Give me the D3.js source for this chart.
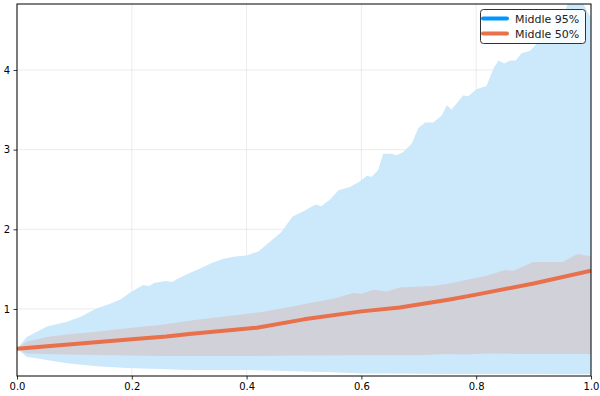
<!DOCTYPE html>
<html><head><meta charset="utf-8">
<script src="https://cdn.jsdelivr.net/npm/d3@7"></script>
<style>body{margin:0;background:#fff}svg{display:block;font-family:"DejaVu Sans",sans-serif}</style>
</head><body><svg id="c" width="600" height="396"></svg>
<script>
const up95X = [0,0.017,0.052,0.087,0.11,0.139,0.16,0.18,0.20,0.22,0.23,0.24,0.26,0.27,0.28,0.30,0.32,0.34,0.36,0.38,0.40,0.42,0.44,0.46,0.48,0.50,0.52,0.53,0.545,0.56,0.58,0.597,0.609,0.618,0.629,0.638,0.653,0.661,0.673,0.688,0.699,0.711,0.725,0.740,0.749,0.757,0.777,0.786,0.801,0.818,0.830,0.839,0.849,0.859,0.869,0.879,0.894,0.905,0.92,0.94,0.955,0.965,0.975,0.985,1.0];
const up95Y = [0.50,0.65,0.78,0.84,0.90,1.01,1.06,1.12,1.22,1.30,1.29,1.33,1.35,1.34,1.38,1.45,1.51,1.58,1.63,1.66,1.67,1.72,1.84,1.96,2.16,2.23,2.31,2.29,2.37,2.49,2.53,2.60,2.67,2.66,2.74,2.95,2.95,2.93,2.97,3.08,3.27,3.34,3.34,3.43,3.56,3.50,3.68,3.67,3.76,3.80,4.02,4.12,4.08,4.12,4.12,4.21,4.24,4.33,4.41,4.55,4.75,4.92,4.95,4.85,4.65];
const lo95X = [0,0.017,0.052,0.087,0.139,0.192,0.26,0.30,0.35,0.40,0.45,0.50,0.55,0.60,0.65,0.70,0.75,0.80,0.85,0.90,0.95,1.0];
const lo95Y = [0.50,0.40,0.36,0.32,0.28,0.26,0.245,0.235,0.235,0.235,0.225,0.215,0.205,0.19,0.19,0.188,0.185,0.185,0.183,0.183,0.18,0.18];
const up50X = [0,0.017,0.052,0.087,0.139,0.192,0.249,0.307,0.365,0.423,0.481,0.505,0.551,0.586,0.60,0.621,0.644,0.667,0.696,0.725,0.754,0.78,0.815,0.85,0.865,0.899,0.95,0.977,1.0];
const up50Y = [0.50,0.59,0.65,0.68,0.715,0.757,0.80,0.86,0.91,0.96,1.03,1.07,1.13,1.20,1.19,1.24,1.22,1.27,1.28,1.29,1.32,1.36,1.41,1.49,1.48,1.59,1.59,1.69,1.66];
const lo50X = [0,0.017,0.087,0.25,0.40,0.50,0.60,0.70,0.75,0.78,0.82,0.88,0.95,1.0];
const lo50Y = [0.50,0.44,0.43,0.41,0.41,0.415,0.42,0.42,0.435,0.43,0.44,0.435,0.435,0.435];
const medX = [0,0.1,0.2,0.26,0.3,0.418,0.5,0.6,0.667,0.754,0.8,0.9,1.0];
const medY = [0.50,0.56,0.62,0.655,0.685,0.765,0.87,0.97,1.02,1.12,1.18,1.32,1.48];
const xTicks = [0,0.2,0.4,0.6,0.8,1.0];
const yTicks = [1,2,3,4];
const legendLabels = ["Middle 95%","Middle 50%"];

const W=600,H=396,m={l:17,t:4,r:9,b:20};
const svg=d3.select("#c");
const x=d3.scaleLinear().domain([0,1]).range([m.l,W-m.r]);
const y=d3.scaleLinear().domain([0.159,4.828]).range([H-m.b,m.t]);
const pw=W-m.l-m.r, ph=H-m.t-m.b;
svg.append("clipPath").attr("id","cp").append("rect").attr("x",m.l).attr("y",m.t).attr("width",pw).attr("height",ph);

// grid
const g=svg.append("g");
g.selectAll(".gx").data(xTicks).join("line").attr("x1",d=>x(d)).attr("x2",d=>x(d)).attr("y1",m.t).attr("y2",H-m.b).attr("stroke","#b0b0b0").attr("stroke-opacity",0.3).attr("stroke-width",0.8);
g.selectAll(".gy").data(yTicks).join("line").attr("y1",d=>y(d)).attr("y2",d=>y(d)).attr("x1",m.l).attr("x2",W-m.r).attr("stroke","#b0b0b0").attr("stroke-opacity",0.3).attr("stroke-width",0.8);

function band(xu,yu,xl,yl){
  const pts=xu.map((v,i)=>[x(v),y(yu[i])]);
  const low=xl.map((v,i)=>[x(v),y(yl[i])]).reverse();
  return "M"+pts.concat(low).map(p=>p.join(",")).join("L")+"Z";
}
const plot=svg.append("g").attr("clip-path","url(#cp)");
plot.append("path").attr("d",band(up95X,up95Y,lo95X,lo95Y)).attr("fill","#cce8fb");
plot.append("path").attr("d",band(up50X,up50Y,lo50X,lo50Y)).attr("fill","#d1d1da");
const line=d3.line().x(d=>x(d[0])).y(d=>y(d[1]));
plot.append("path").attr("d",line(medX.map((v,i)=>[v,medY[i]]))).attr("fill","none").attr("stroke","#e8704a").attr("stroke-width",4).attr("stroke-linejoin","round");

// axes
const ax=svg.append("g").attr("transform",`translate(0,${H-m.b})`).call(d3.axisBottom(x).tickValues(xTicks).tickFormat(d3.format(".1f")).tickSize(3.5).tickPadding(3.5));
const ay=svg.append("g").attr("transform",`translate(${m.l},0)`).call(d3.axisLeft(y).tickValues(yTicks).tickFormat(d3.format("d")).tickSize(3.5).tickPadding(3.5));
[ax,ay].forEach(a=>{a.select(".domain").remove();a.selectAll("text").attr("font-size",10).attr("fill","#000").attr("font-family","DejaVu Sans");a.selectAll("line").attr("stroke","#000").attr("stroke-width",0.8);});
svg.append("rect").attr("x",m.l).attr("y",m.t).attr("width",pw).attr("height",ph).attr("fill","none").attr("stroke","#000").attr("stroke-width",1);

// legend
const lg=svg.append("g");
lg.append("rect").attr("x",480.5).attr("y",9.5).attr("width",105).attr("height",34).attr("rx",3).attr("fill","#fff").attr("fill-opacity",0.85).attr("stroke","#333").attr("stroke-width",1);
const lc=["#0096ff","#e8704a"];
legendLabels.forEach((t,i)=>{
  const yy=18.5+i*15;
  lg.append("line").attr("x1",483).attr("x2",507).attr("y1",yy).attr("y2",yy).attr("stroke",lc[i]).attr("stroke-width",4).attr("stroke-linecap","round");
  lg.append("text").attr("x",515).attr("y",yy+4).attr("font-size",11).attr("fill","#222").text(t);
});
</script></body></html>
